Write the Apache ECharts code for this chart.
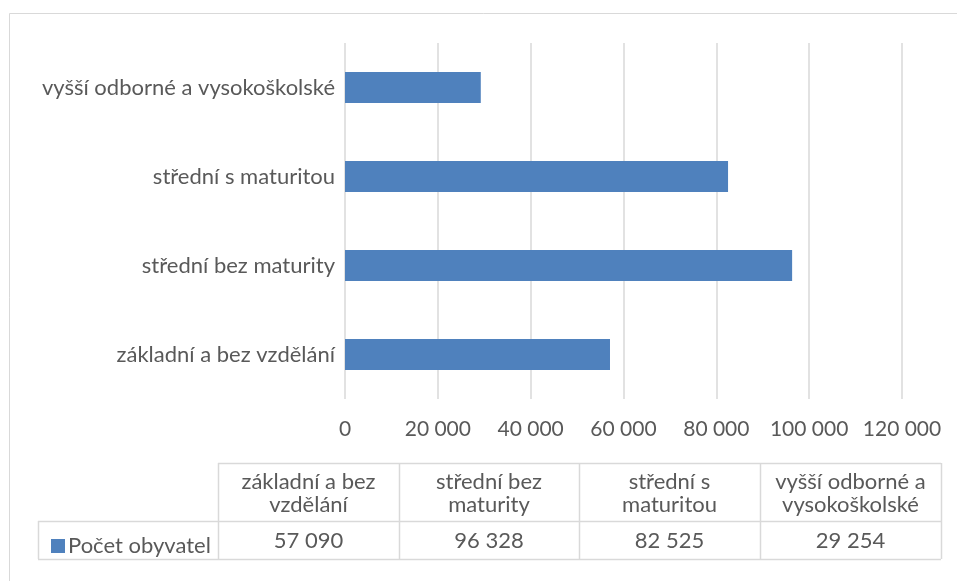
<!DOCTYPE html>
<html>
<head>
<meta charset="utf-8">
<script src="https://cdn.jsdelivr.net/npm/echarts@6/dist/echarts.min.js"></script>
<style>
html,body{margin:0;padding:0;background:#fff;}
#c{width:957px;height:581px;}
</style>
</head>
<body>
<div id="c"></div>
<script>
var categories = ['základní a bez vzdělání', 'střední bez maturity', 'střední s maturitou', 'vyšší odborné a vysokoškolské'];
var seriesName = 'Počet obyvatel';
var values = [57090, 96328, 82525, 29254];
var axisMin = 0, axisMax = 120000, axisStep = 20000;

var FONT = 'Lato';
var FS = 22;      // category / table text
var FS_AX = 21;   // value axis labels
var TXT = '#595959';
var LINE = '#D9D9D9';
var BAR = '#4F81BD';

function fmt(v) { return String(v).replace(/\B(?=(\d{3})+(?!\d))/g, ' '); }

var ctx = document.createElement('canvas').getContext('2d');
ctx.font = FS + 'px ' + FONT;
function wrap(text, maxW) {
  var words = text.split(' '), lines = [], cur = '';
  words.forEach(function (w) {
    var t = cur ? cur + ' ' + w : w;
    if (ctx.measureText(t).width > maxW && cur) { lines.push(cur); cur = w; }
    else cur = t;
  });
  if (cur) lines.push(cur);
  return lines.join('\n');
}

// table geometry
var colX = [218, 399, 579, 760, 941];
var rowY = [463, 521, 559];
var legX = 38;

var chart = echarts.init(document.getElementById('c'));

var g = [];
g.push({ type: 'rect', shape: { x: 9.5, y: 13.5, width: 980, height: 600 }, style: { fill: 'none', stroke: LINE, lineWidth: 1 }, silent: true });
function hline(x1, x2, y) { g.push({ type: 'line', shape: { x1: x1, y1: y + 0.5, x2: x2, y2: y + 0.5 }, style: { stroke: LINE, lineWidth: 1.5 }, silent: true }); }
function vline(x, y1, y2) { g.push({ type: 'line', shape: { x1: x + 0.5, y1: y1, x2: x + 0.5, y2: y2 }, style: { stroke: LINE, lineWidth: 1.5 }, silent: true }); }
hline(colX[0], colX[4], rowY[0]);
hline(legX, colX[4], rowY[1]);
hline(legX, colX[4], rowY[2]);
colX.forEach(function (x) { vline(x, rowY[0], rowY[2]); });
vline(legX, rowY[1], rowY[2]);
categories.forEach(function (c, i) {
  var cx = (colX[i] + colX[i + 1]) / 2;
  g.push({ type: 'text', x: cx, y: (rowY[0] + rowY[1]) / 2 + 1, silent: true,
    style: { text: wrap(c, 174), fill: TXT, font: FS + 'px ' + FONT, align: 'center', verticalAlign: 'middle', lineHeight: 23 } });
  g.push({ type: 'text', x: cx, y: (rowY[1] + rowY[2]) / 2 + 1, silent: true,
    style: { text: fmt(values[i]), fill: TXT, font: FS + 'px ' + FONT, align: 'center', verticalAlign: 'middle' } });
});

chart.setOption({
  animation: false,
  backgroundColor: '#fff',
  textStyle: { fontFamily: FONT },
  grid: { left: 345, right: 55, top: 43, height: 356, containLabel: false },
  legend: {
    data: [seriesName], left: 46, top: 530, itemWidth: 14, itemHeight: 14, itemGap: 4,
    icon: 'rect', textStyle: { color: TXT, fontSize: FS, fontFamily: FONT, padding: [0, 0, 0, -2] }
  },
  xAxis: {
    type: 'value', min: axisMin, max: axisMax, interval: axisStep,
    axisLine: { show: false }, axisTick: { show: false },
    splitLine: { show: true, lineStyle: { color: LINE, width: 1.5 } },
    axisLabel: { color: TXT, fontSize: FS_AX, fontFamily: FONT, margin: 20, formatter: fmt }
  },
  yAxis: {
    type: 'category', data: categories,
    axisLine: { show: false }, axisTick: { show: false },
    axisLabel: { color: TXT, fontSize: FS, fontFamily: FONT, margin: 10 }
  },
  series: [{
    name: seriesName, type: 'bar', data: values, barWidth: 31,
    itemStyle: { color: BAR }
  }],
  graphic: g
});
</script>
</body>
</html>
